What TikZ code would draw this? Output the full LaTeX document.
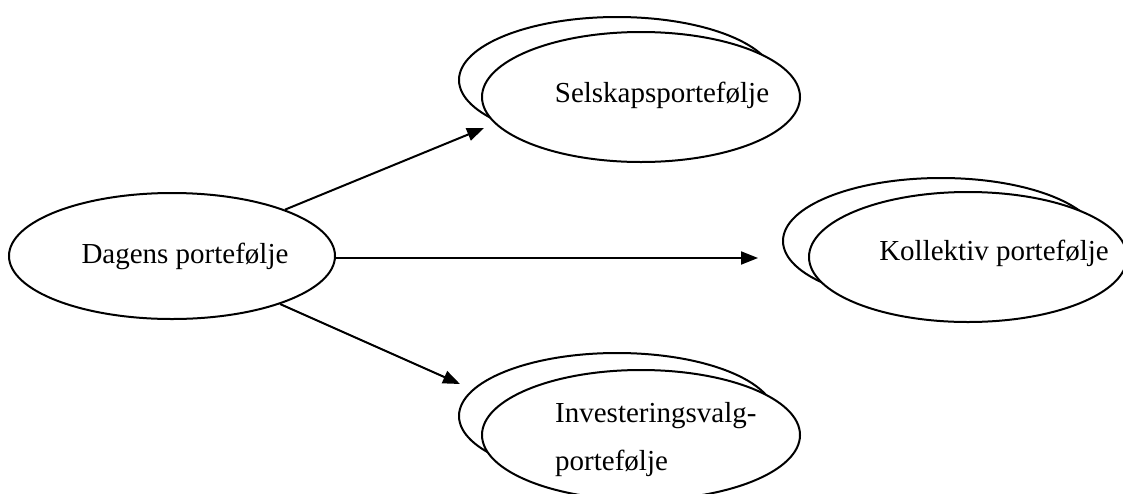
\documentclass[tikz,border=0pt]{standalone}
\usepackage{fontspec}
\setmainfont{Liberation Serif}
\usetikzlibrary{shapes.geometric,arrows.meta}
\begin{document}
\begin{tikzpicture}[x=1pt,y=-1pt,
  oval/.style={ellipse,draw=black,fill=white,line width=2pt,inner sep=0pt},
  backoval/.style={oval,minimum width=316pt,minimum height=126pt},
  frontoval/.style={oval,minimum width=318pt,minimum height=130pt},
  lbl/.style={anchor=base,inner sep=0pt,font=\fontsize{29}{48}\selectfont},
  link/.style={line width=2pt,-{Triangle[length=17pt,width=13pt]}}]
\useasboundingbox (0,0) rectangle (1123,493);
\clip (0,0) rectangle (1123,493);
% source
\node[oval,minimum width=326pt,minimum height=126pt] (dagens) at (172,256) {};
\node[lbl] (dagenstxt) at (185,263) {Dagens portefølje};
% company portfolio
\node[backoval] (selskapback) at (617,80) {};
\node[frontoval] (selskap) at (641,97) {};
\node[lbl] (selskaptxt) at (662,102) {Selskapsportefølje};
% collective portfolio
\node[backoval] (kollektivback) at (941,241) {};
\node[frontoval] (kollektiv) at (968,257) {};
\node[lbl] (kollektivtxt) at (994,260) {Kollektiv portefølje};
% investment choice portfolio
\node[backoval] (investback) at (617,416) {};
\node[frontoval] (invest) at (641,435) {};
\node[lbl,anchor=base west,align=left] (investtxt) at (555,470)
  {Investeringsvalg-\\portefølje};
% arrow tips
\coordinate (tipS) at (484,128);
\coordinate (tipK) at (758,258);
\coordinate (tipI) at (460,384);
\draw[link] (dagens) -- (tipS);
\draw[link] (dagens.east |- tipK) -- (tipK);
\draw[link] (dagens) -- (tipI);
\end{tikzpicture}
\end{document}
